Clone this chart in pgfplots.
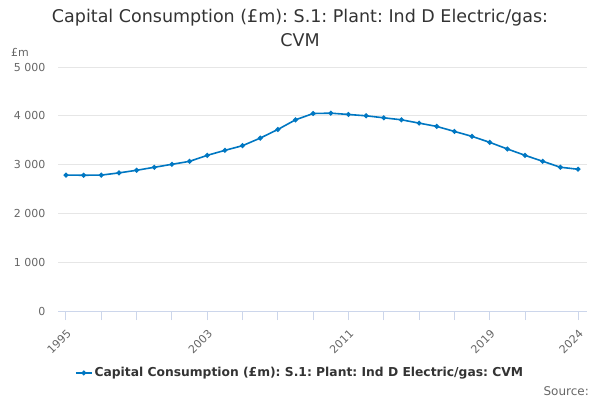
\documentclass[border=0pt]{standalone}
\usepackage{fontspec}
\setmainfont{DejaVu Sans}
\usepackage{pgfplots}
\pgfplotsset{compat=1.18}
\definecolor{series}{RGB}{0,119,194}
\definecolor{axisline}{RGB}{204,214,235}
\definecolor{gridc}{RGB}{230,230,230}
\definecolor{titlec}{RGB}{51,51,51}
\definecolor{tickc}{RGB}{102,102,102}
\begin{document}
\frenchspacing
\begin{tikzpicture}[x=1bp,y=1bp]
\useasboundingbox (0,0) rectangle (600,400);
\node[text=titlec, font=\fontsize{17.5bp}{20bp}\selectfont] at (300,382) {Capital Consumption (£m): S.1: Plant: Ind D Electric/gas:};
\node[text=titlec, font=\fontsize{17.5bp}{20bp}\selectfont] at (300,360) {CVM};
\node[text=tickc, anchor=west, inner sep=0pt, font=\fontsize{11bp}{13bp}\selectfont] at (11,348) {£m};
\node[text=tickc, anchor=east, inner sep=0pt, font=\fontsize{12bp}{14bp}\selectfont] at (589,9) {Source:};
\begin{axis}[
  at={(58bp,89bp)}, anchor=south west,
  scale only axis, width=529bp, height=244bp,
  xmin=1994.547, xmax=2024.51, ymin=0, ymax=5000,
  axis x line*=bottom, axis y line*=left,
  y axis line style={draw=none},
  x axis line style={axisline, line width=1bp},
  ytick={0,1000,2000,3000,4000,5000},
  ytick style={draw=none},
  ymajorgrids, grid style={gridc, line width=1bp},
  xtick={1995,2003,2011,2019,2024},
  xticklabels={1995,2003,2011,2019,2024},
  minor xtick={1997,1999,2001,2005,2007,2009,2013,2015,2017,2021},
  xtick style={axisline, line width=1bp},
  tick align=outside, major tick length=9bp, minor tick length=9bp,
  tick label style={font=\fontsize{11bp}{13bp}\selectfont, text=tickc},
  yticklabel style={/pgf/number format/.cd, 1000 sep={\ }, assume math mode=true},
  xticklabel style={rotate=45, anchor=north east, inner sep=1bp, xshift=-5bp, yshift=-5bp},
  legend style={at={(0.4575,-0.254)}, anchor=center, draw=none, fill=none,
    font=\bfseries\fontsize{12.3bp}{15bp}\selectfont, text=titlec},
  legend image code/.code={\draw[mark repeat=2,mark phase=2] plot coordinates {(0bp,0bp) (8bp,0bp) (16bp,0bp)};},
]
\addplot[series, line width=1.6bp, mark=*, mark size=1.6bp] coordinates {
(1995,2785) (1996,2782) (1997,2785) (1998,2830) (1999,2884) (2000,2945)
(2001,3006) (2002,3067) (2003,3190) (2004,3292) (2005,3388) (2006,3543)
(2007,3720) (2008,3918) (2009,4047) (2010,4054) (2011,4027) (2012,4000)
(2013,3959) (2014,3918) (2015,3850) (2016,3782) (2017,3680) (2018,3578)
(2019,3456) (2020,3320) (2021,3190) (2022,3068) (2023,2946) (2024,2905)
};
\addlegendentry{Capital Consumption (£m): S.1: Plant: Ind D Electric/gas: CVM}
\end{axis}
\end{tikzpicture}
\end{document}
